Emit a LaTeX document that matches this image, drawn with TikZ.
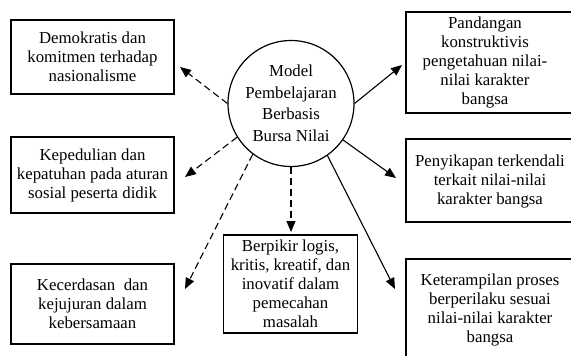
\documentclass[tikz,border=0pt]{standalone}
\usepackage{fontspec}
\setmainfont{Liberation Serif}
\usetikzlibrary{arrows.meta}
\begin{document}
\begin{tikzpicture}[x=1pt,y=-1pt,
  txt/.style={font=\fontsize{16.8}{19}\selectfont, align=center, inner sep=0pt},
  box/.style={txt, draw, line width=1.2pt},
  frame/.style={draw, line width=1.2pt},
  dasharrow/.style={line width=1.1pt, dash pattern=on 7pt off 4pt, -{Triangle[length=11pt,width=9pt]}},
  solidarrow/.style={line width=1.1pt, -{Triangle[length=11pt,width=9pt]}},
]
\clip (0,0) rectangle (571,356);
\node[draw, circle, line width=1.2pt, minimum size=126pt, inner sep=0pt,
      font=\fontsize{16.8}{21.5}\selectfont, align=center] (C) at (291,103.5)
      {Model\\Pembelajaran\\Berbasis\\Bursa Nilai};
\node[box, minimum width=163pt, minimum height=74pt] (L1) at (92.5,57)
      {Demokratis dan\\komitmen terhadap\\nasionalisme};
\node[box, minimum width=163pt, minimum height=76pt] (L2) at (92.5,175)
      {Kepedulian dan\\kepatuhan pada aturan\\sosial peserta didik};
\node[box, minimum width=163pt, minimum height=80pt] (L3) at (92.5,304)
      {Kecerdasan\ \ dan\\kejujuran dalam\\kebersamaan};
\node[box, minimum width=134pt, minimum height=98pt] (B) at (290.5,284)
      {Berpikir logis,\\kritis, kreatif, dan\\inovatif dalam\\pemecahan\\masalah};
\draw[frame] (406,12) rectangle (600,113);
\node[txt] (R1) at (485,62.5)
      {Pandangan\\konstruktivis\\pengetahuan nilai-\\nilai karakter\\bangsa};
\draw[frame] (406,139) rectangle (600,222);
\node[txt] (R2) at (490,181)
      {Penyikapan terkendali\\terkait nilai-nilai\\karakter bangsa};
\draw[frame] (406,259) rectangle (600,400);
\node[txt] (R3) at (490,310)
      {Keterampilan proses\\berperilaku sesuai\\nilai-nilai karakter\\bangsa};
\coordinate (t1) at (180,67);
\coordinate (t2) at (185,177);
\coordinate (t3) at (185,289);
\coordinate (t4) at (291,232);
\coordinate (t5) at (402,65);
\coordinate (t6) at (396,178);
\coordinate (t7) at (395,289);
\draw[dasharrow] (C.180) -- (t1);
\draw[dasharrow] (C.212) -- (t2);
\draw[dasharrow] (C.233) -- (t3);
\draw[dasharrow] (C.south) -- (t4);
\draw[solidarrow] (C.0) -- (t5);
\draw[solidarrow] (C.325) -- (t6);
\draw[solidarrow] (C.305) -- (t7);
\end{tikzpicture}
\end{document}
